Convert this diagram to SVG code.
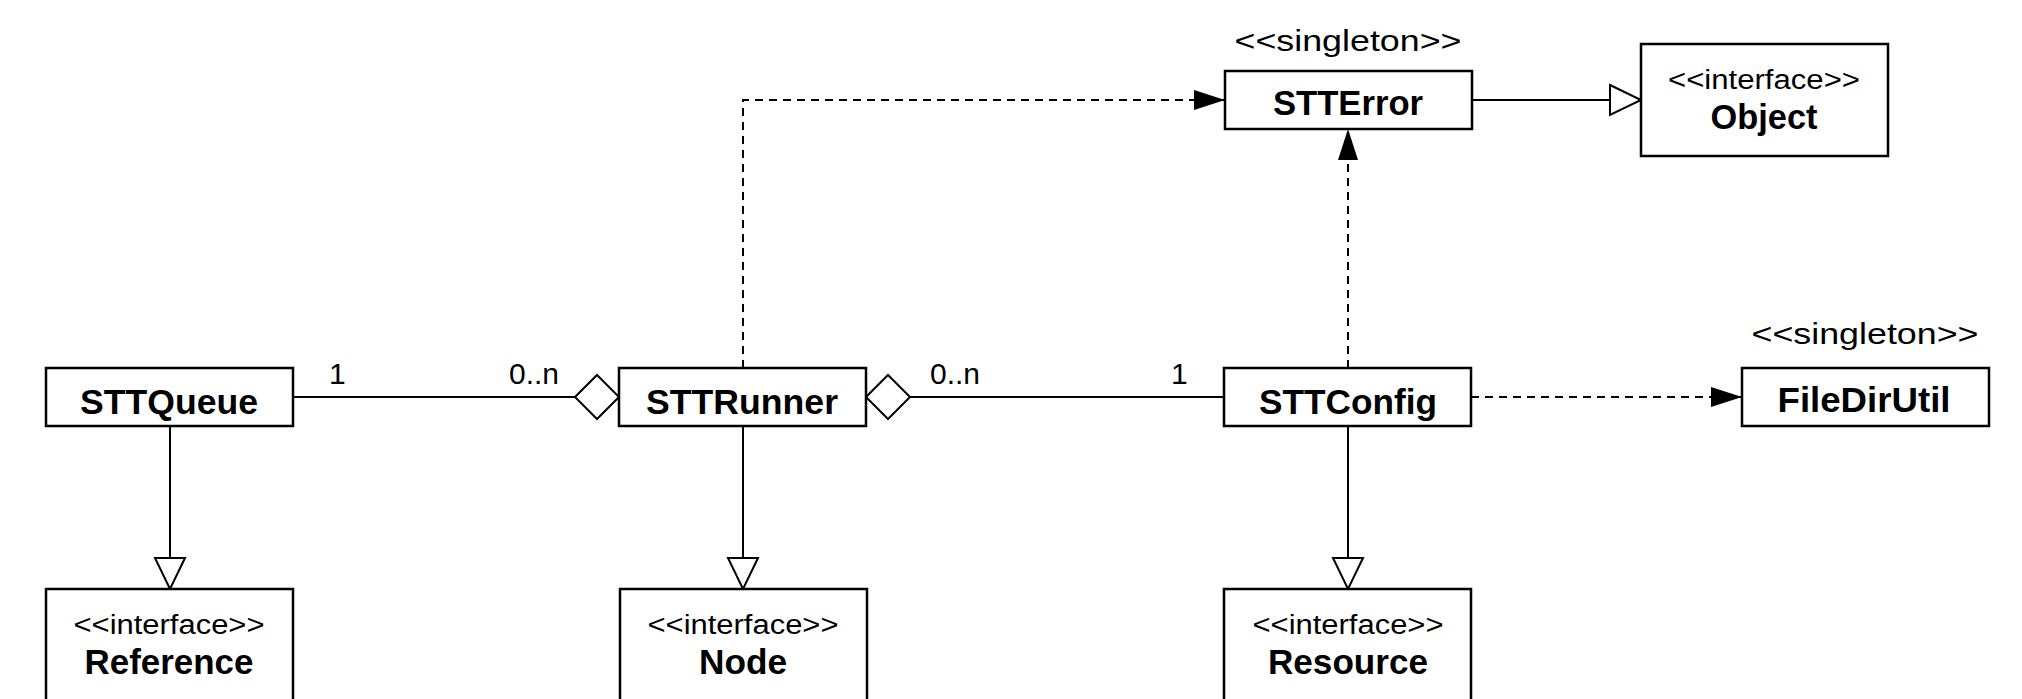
<svg xmlns="http://www.w3.org/2000/svg" width="2022" height="699" viewBox="0 0 2022 699">
  <style>
    .box { fill: #ffffff; stroke: #000000; stroke-width: 2.5; }
    .name { font-family: "Liberation Sans", Arial, sans-serif; font-weight: bold; font-size: 35px; fill: #000; text-anchor: middle; }
    .stereo { font-family: "Liberation Sans", Arial, sans-serif; font-size: 27px; fill: #000; text-anchor: middle; }
    .single { font-family: "Liberation Sans", Arial, sans-serif; font-size: 30px; fill: #000; text-anchor: middle; }
    .mult { font-family: "Liberation Sans", Arial, sans-serif; font-size: 30px; fill: #000; }
    .assoc { fill: none; stroke: #000; stroke-width: 2; }
    .dep { fill: none; stroke: #000; stroke-width: 2; stroke-dasharray: 8 6; marker-end: url(#open-dep); }
    .gen { fill: none; stroke: #000; stroke-width: 2; marker-end: url(#hollow-tri); }
    .diamond { fill: #ffffff; stroke: #000; stroke-width: 2; }
  </style>
  <defs>
    <!-- filled arrowhead for dependencies -->
    <marker id="open-dep" markerUnits="userSpaceOnUse" viewBox="0 0 31 20" refX="31" refY="10" markerWidth="31" markerHeight="20" orient="auto" overflow="visible">
      <path d="M0,0 L31,10 L0,20 Z" fill="#000" stroke="none"/>
    </marker>
    <!-- hollow triangle for generalization -->
    <marker id="hollow-tri" markerUnits="userSpaceOnUse" viewBox="0 0 31 30" refX="31" refY="15" markerWidth="31" markerHeight="30" orient="auto" overflow="visible">
      <path d="M0,0 L31,15 L0,30 Z" fill="#fff" stroke="#000" stroke-width="2" stroke-linejoin="miter"/>
    </marker>
  </defs>

  <rect width="2022" height="699" fill="#ffffff"/>

  <g id="connectors">
    <!-- aggregation STTQueue - STTRunner -->
    <line class="assoc" x1="293" y1="397" x2="575" y2="397"/>
    <polygon class="diamond" points="575,397 597,375 619,397 597,419"/>
    <text class="mult" x="329" y="384">1</text>
    <text class="mult" x="509" y="384">0..n</text>

    <!-- aggregation STTRunner - STTConfig -->
    <polygon class="diamond" points="866,397 888,375 910,397 888,419"/>
    <line class="assoc" x1="910" y1="397" x2="1224" y2="397"/>
    <text class="mult" x="930" y="384">0..n</text>
    <text class="mult" x="1171" y="384">1</text>

    <!-- dependencies -->
    <path class="dep" d="M743,368 V100 H1225"/>
    <path class="dep" d="M1348,368 V129"/>
    <path class="dep" d="M1471,397 H1742"/>

    <!-- generalizations -->
    <path class="gen" d="M1472,100 H1641"/>
    <path class="gen" d="M170,426 V589"/>
    <path class="gen" d="M743,426 V589"/>
    <path class="gen" d="M1348,426 V589"/>
  </g>

  <g id="STTError">
    <text class="single" x="1348" y="51" textLength="227" lengthAdjust="spacingAndGlyphs">&lt;&lt;singleton&gt;&gt;</text>
    <rect class="box" x="1225" y="71" width="247" height="58"/>
    <text class="name" x="1348" y="115" textLength="150" lengthAdjust="spacingAndGlyphs">STTError</text>
  </g>

  <g id="Object">
    <rect class="box" x="1641" y="44" width="247" height="112"/>
    <text class="stereo" x="1764" y="89" textLength="192" lengthAdjust="spacingAndGlyphs">&lt;&lt;interface&gt;&gt;</text>
    <text class="name" x="1764" y="129" textLength="107" lengthAdjust="spacingAndGlyphs">Object</text>
  </g>

  <g id="STTQueue">
    <rect class="box" x="46" y="368" width="247" height="58"/>
    <text class="name" x="169" y="414" textLength="178" lengthAdjust="spacingAndGlyphs">STTQueue</text>
  </g>

  <g id="STTRunner">
    <rect class="box" x="619" y="368" width="247" height="58"/>
    <text class="name" x="742" y="414" textLength="192" lengthAdjust="spacingAndGlyphs">STTRunner</text>
  </g>

  <g id="STTConfig">
    <rect class="box" x="1224" y="368" width="247" height="58"/>
    <text class="name" x="1348" y="414" textLength="178" lengthAdjust="spacingAndGlyphs">STTConfig</text>
  </g>

  <g id="FileDirUtil">
    <text class="single" x="1865" y="344" textLength="227" lengthAdjust="spacingAndGlyphs">&lt;&lt;singleton&gt;&gt;</text>
    <rect class="box" x="1742" y="368" width="247" height="58"/>
    <text class="name" x="1864" y="412" textLength="173" lengthAdjust="spacingAndGlyphs">FileDirUtil</text>
  </g>

  <g id="Reference">
    <rect class="box" x="46" y="589" width="247" height="112"/>
    <text class="stereo" x="169" y="634" textLength="191" lengthAdjust="spacingAndGlyphs">&lt;&lt;interface&gt;&gt;</text>
    <text class="name" x="169" y="674" textLength="169" lengthAdjust="spacingAndGlyphs">Reference</text>
  </g>

  <g id="Node">
    <rect class="box" x="620" y="589" width="247" height="112"/>
    <text class="stereo" x="743" y="634" textLength="191" lengthAdjust="spacingAndGlyphs">&lt;&lt;interface&gt;&gt;</text>
    <text class="name" x="743" y="674" textLength="88" lengthAdjust="spacingAndGlyphs">Node</text>
  </g>

  <g id="Resource">
    <rect class="box" x="1224" y="589" width="247" height="112"/>
    <text class="stereo" x="1348" y="634" textLength="191" lengthAdjust="spacingAndGlyphs">&lt;&lt;interface&gt;&gt;</text>
    <text class="name" x="1348" y="674" textLength="160" lengthAdjust="spacingAndGlyphs">Resource</text>
  </g>
</svg>
